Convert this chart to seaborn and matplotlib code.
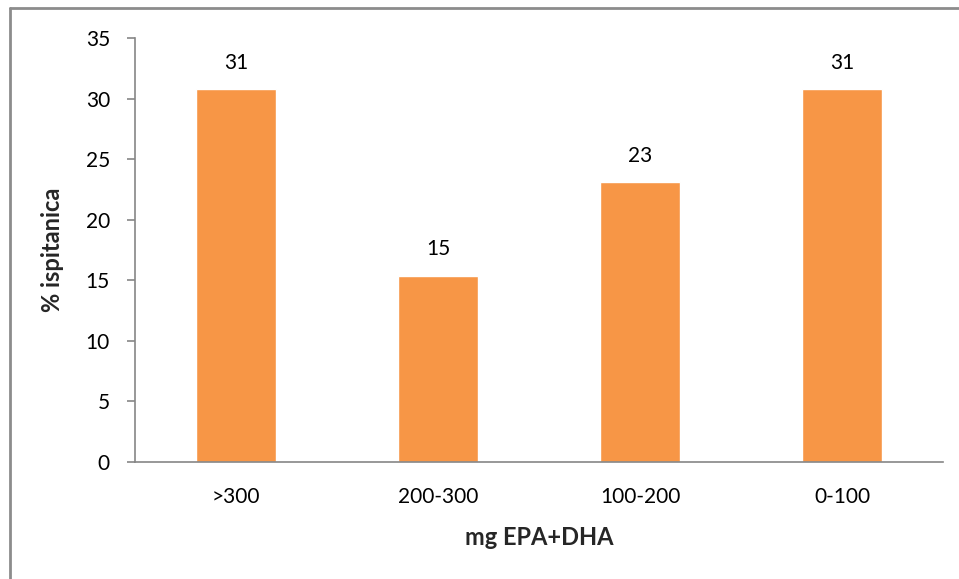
import numpy as np
import pandas as pd
import matplotlib
matplotlib.use("Agg")
import matplotlib.pyplot as plt
from matplotlib.lines import Line2D
import seaborn as sns

# Data
categories = [">300", "200-300", "100-200", "0-100"]
values = [30.77, 15.38, 23.08, 30.77]
labels = ["31", "15", "23", "31"]

df = pd.DataFrame({"doza": categories, "pct": values})

sns.set_theme(style="white")
plt.rcParams["font.family"] = ["Lato", "DejaVu Sans"]

axis_grey = "#868686"
bar_orange = "#F79646"

fig = plt.figure(figsize=(9.59, 5.79), dpi=100)
ax = fig.add_axes([135 / 959, 1 - 462 / 579, (943 - 135) / 959, (462 - 38) / 579])

sns.barplot(data=df, x="doza", y="pct", color=bar_orange, width=0.4,
            saturation=1, ax=ax)

# Value labels above bars
for i, (v, lab) in enumerate(zip(values, labels)):
    ax.annotate(lab, (i, v), xytext=(0, 12), textcoords="offset points",
                ha="center", va="bottom", fontsize=15, color="black")

ax.set_xlim(-0.5, 3.5)
ax.set_ylim(0, 35)
ax.set_yticks(np.arange(0, 36, 5))

# Category boundary ticks on x axis
ax.set_xticks(np.arange(-0.5, 4, 1), minor=True)
ax.tick_params(axis="x", which="major", length=0, pad=18, labelsize=15, colors="black")
ax.tick_params(axis="x", which="minor", length=6, width=1.2, color=axis_grey, direction="out")
ax.tick_params(axis="y", which="major", length=6, width=1.2, color=axis_grey,
               direction="out", labelsize=15, labelcolor="black", pad=12, left=True)

for side in ["top", "right"]:
    ax.spines[side].set_visible(False)
for side in ["left", "bottom"]:
    ax.spines[side].set_color(axis_grey)
    ax.spines[side].set_linewidth(1.2)

ax.set_xlabel("mg EPA+DHA", fontsize=17, fontweight="bold", labelpad=14)
ax.set_ylabel("% ispitanica", fontsize=17, fontweight="bold", labelpad=16)

# Partial frame around the chart area (top and left edges)
fig.add_artist(Line2D([10 / 959, 10 / 959], [0, 1 - 8 / 579], transform=fig.transFigure,
                      color="#8c8c8c", lw=2))
fig.add_artist(Line2D([10 / 959, 1], [1 - 8 / 579, 1 - 8 / 579], transform=fig.transFigure,
                      color="#8c8c8c", lw=2))

fig.savefig("out.png", dpi=100)
